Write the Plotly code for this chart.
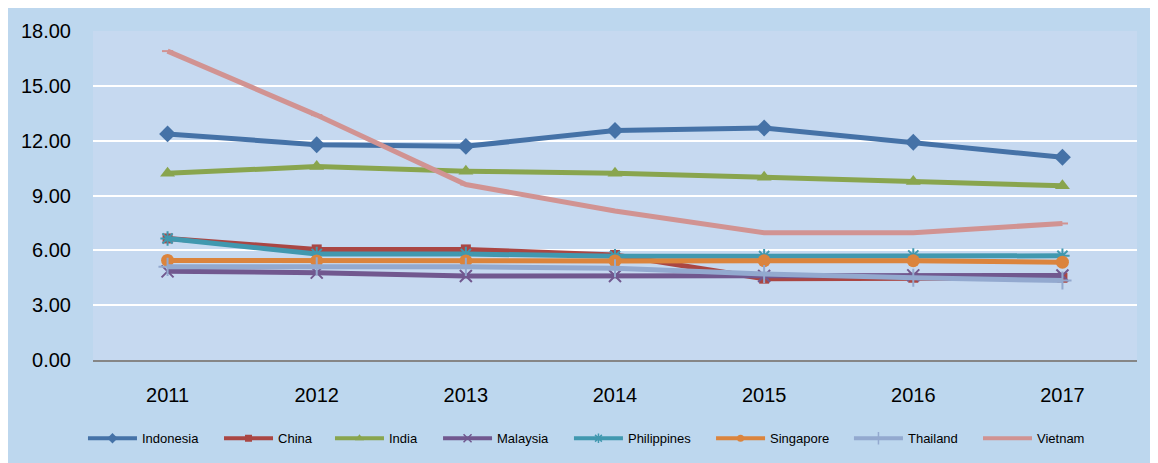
import plotly.graph_objects as go

years = ["2011", "2012", "2013", "2014", "2015", "2016", "2017"]
indonesia = [12.37, 11.78, 11.69, 12.56, 12.69, 11.91, 11.09]
china = [6.65, 6.05, 6.05, 5.75, 4.45, 4.50, 4.50]
india = [10.22, 10.58, 10.33, 10.22, 10.00, 9.76, 9.53]
malaysia = [4.85, 4.78, 4.60, 4.60, 4.60, 4.63, 4.62]
philippines = [6.65, 5.80, 5.80, 5.68, 5.68, 5.72, 5.70]
singapore = [5.45, 5.42, 5.42, 5.42, 5.43, 5.43, 5.35]
thailand = [5.10, 5.12, 5.10, 5.02, 4.70, 4.50, 4.35]
vietnam = [16.90, 13.40, 9.60, 8.15, 6.96, 6.96, 7.47]
y_ticks = [0, 3, 6, 9, 12, 15, 18]

# name, values, colour, symbol, marker size, open-line width, legend marker size
series = [
    ("Indonesia", indonesia, "#4572A7", "diamond", 13, 0, 8),
    ("China", china, "#AA4643", "square", 10, 0, 7),
    ("India", india, "#89A54E", "triangle-up", 13, 0, 8),
    ("Malaysia", malaysia, "#71588F", "x-thin-open", 12, 2, 8),
    ("Philippines", philippines, "#4198AF", "asterisk-open", 12, 2, 8),
    ("Singapore", singapore, "#DB843D", "circle", 13, 0, 7),
    ("Thailand", thailand, "#93A9CF", "cross-thin-open", 13, 2, 9),
    ("Vietnam", vietnam, "#D19392", "line-ew-open", 8, 2, 5),
]
# left positions (paper x) of each legend entry, matching the reference layout
legend_x = [-0.0096, 0.1207, 0.2270, 0.3305, 0.4559, 0.5920, 0.7241, 0.8477]

font_family = "Liberation Sans, Arial, sans-serif"
fig = go.Figure()
legend_layouts = {}
for i, (name, vals, col, sym, size, lw, lsize) in enumerate(series):
    marker = dict(symbol=sym, size=size, color=col,
                  line=dict(color=col, width=lw))
    fig.add_trace(go.Scatter(
        x=years, y=vals, name=name, mode="lines+markers",
        line=dict(color=col, width=5), marker=marker, showlegend=False,
        legendgroup=name,
    ))
    lname = "legend" if i == 0 else f"legend{i + 1}"
    fig.add_trace(go.Scatter(
        x=[None], y=[None], name=name, mode="lines+markers",
        line=dict(color=col, width=4),
        marker=dict(symbol=sym, size=lsize, color=col,
                    line=dict(color=col, width=1.5 if lw else 0)),
        showlegend=True, legend=lname, legendgroup=name,
    ))
    legend_layouts[lname] = dict(
        orientation="h", x=legend_x[i], xanchor="left", y=-0.238,
        yanchor="middle", font=dict(size=13, family=font_family),
        bgcolor="rgba(0,0,0,0)", itemwidth=49,
    )

fig.update_layout(
    width=1150, height=455,
    margin=dict(l=85, r=21, t=23, b=103, autoexpand=False),
    paper_bgcolor="#BDD7EE",
    plot_bgcolor="#C6D9F0",
    font=dict(family=font_family, color="#000000"),
    showlegend=True,
    xaxis=dict(
        type="category", showgrid=False, zeroline=False, automargin=False,
        showline=True, linecolor="#868686", linewidth=2,
        ticks="", tickfont=dict(size=20), ticklabelstandoff=16,
        range=[-0.5, 6.5],
    ),
    yaxis=dict(
        range=[0, 18], tickvals=y_ticks, automargin=False,
        ticktext=[f"{v:.2f}" for v in y_ticks],
        showgrid=True, gridcolor="#FFFFFF", gridwidth=2,
        zeroline=False, showline=False, ticks="",
        tickfont=dict(size=20), ticklabelstandoff=21,
    ),
    **legend_layouts,
)

fig.write_html("out.html")
